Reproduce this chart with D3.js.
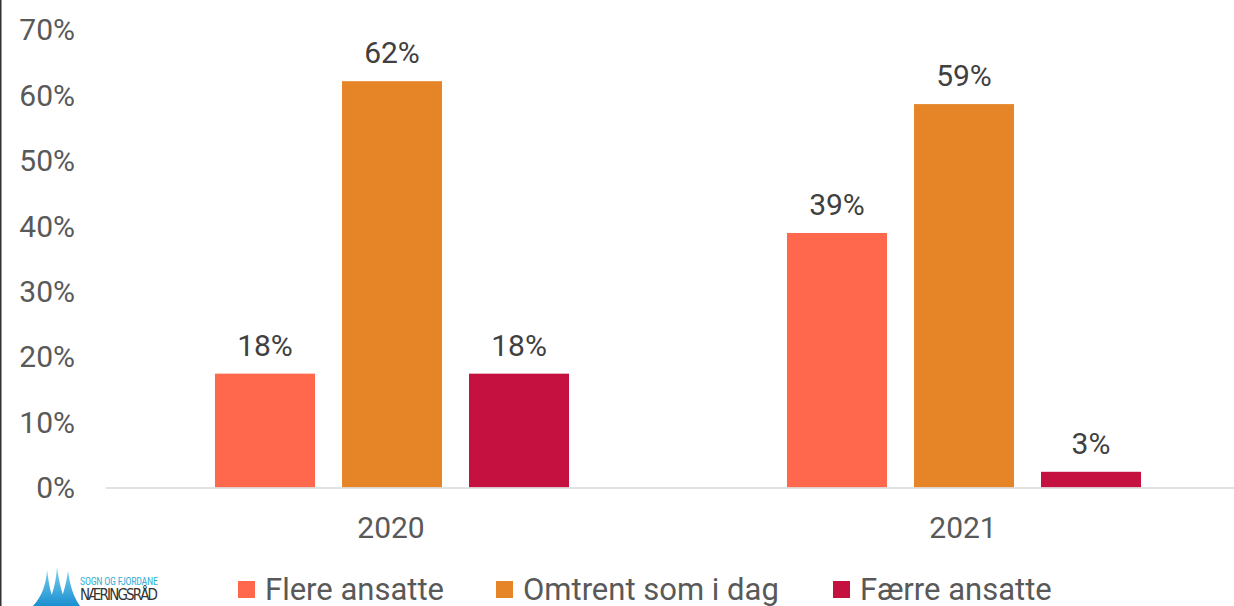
<!DOCTYPE html>
<html>
<head>
<meta charset="utf-8">
<script src="https://cdn.jsdelivr.net/npm/d3@7"></script>
<style>
  body { margin: 0; background: #fff; }
  svg { display: block; font-family: Roboto, "Noto Sans", sans-serif; }
</style>
</head>
<body>
<script>
//chart data
var years = ["2020", "2021"];
var seriesNames = ["Flere ansatte", "Omtrent som i dag", "Færre ansatte"];
var seriesColors = ["#ff684d", "#e68527", "#c51140"];
var flere = [0.174, 0.389];
var omtrent = [0.621, 0.586];
var faerre = [0.174, 0.024];
var valueLabels = [["18%", "62%", "18%"], ["39%", "59%", "3%"]];
var yTicks = [0, 0.1, 0.2, 0.3, 0.4, 0.5, 0.6, 0.7];

var width = 1234,
    height = 606;

var svg = d3.select("body")
    .append("svg")
    .attr("width", width)
    .attr("height", height);

//frame line on the left
svg.append("line")
    .attr("x1", 0.75).attr("x2", 0.75)
    .attr("y1", 0).attr("y2", height)
    .attr("stroke", "#333")
    .attr("stroke-width", 1.5);

//scales
var x0 = d3.scaleBand()
    .domain(years)
    .range([106, 1250])
    .padding(0);

var x1 = d3.scaleBand()
    .domain(seriesNames)
    .range([0, x0.bandwidth()])
    .paddingInner(0.2126)
    .paddingOuter(0.858);

var y = d3.scaleLinear()
    .domain([0, 0.7])
    .range([487.5, 29.5]);

//y tick labels
svg.selectAll(".ytick")
    .data(yTicks)
    .enter()
    .append("text")
    .attr("class", "ytick")
    .attr("x", 75)
    .attr("y", function(d){ return y(d); })
    .attr("dy", "0.36em")
    .attr("text-anchor", "end")
    .attr("fill", "#595959")
    .style("font-size", "30px")
    .text(d3.format(".0%"));

//build rows from the arrays
var rows = years.map(function(yr, i){
    return {
        year: yr,
        values: [flere[i], omtrent[i], faerre[i]].map(function(v, j){
            return { name: seriesNames[j], value: v, label: valueLabels[i][j], color: seriesColors[j] };
        })
    };
});

var groups = svg.selectAll(".group")
    .data(rows)
    .enter()
    .append("g")
    .attr("class", "group")
    .attr("transform", function(d){ return "translate(" + x0(d.year) + ",0)"; });

groups.selectAll("rect")
    .data(function(d){ return d.values; })
    .enter()
    .append("rect")
    .attr("x", function(d){ return x1(d.name); })
    .attr("y", function(d){ return y(d.value); })
    .attr("width", x1.bandwidth())
    .attr("height", function(d){ return y(0) - y(d.value); })
    .attr("fill", function(d){ return d.color; });

groups.selectAll(".vlabel")
    .data(function(d){ return d.values; })
    .enter()
    .append("text")
    .attr("class", "vlabel")
    .attr("x", function(d){ return x1(d.name) + x1.bandwidth() / 2; })
    .attr("y", function(d){ return y(d.value) - 18; })
    .attr("text-anchor", "middle")
    .attr("fill", "#404040")
    .style("font-size", "30px")
    .text(function(d){ return d.label; });

//baseline
svg.append("line")
    .attr("x1", 106).attr("x2", width)
    .attr("y1", y(0) + 0.5).attr("y2", y(0) + 0.5)
    .attr("stroke", "#d9d9d9")
    .attr("stroke-width", 1.5);

//category labels
svg.selectAll(".xlabel")
    .data(years)
    .enter()
    .append("text")
    .attr("class", "xlabel")
    .attr("x", function(d){ return x0(d) + x0.bandwidth() / 2 - 1; })
    .attr("y", 538)
    .attr("text-anchor", "middle")
    .attr("fill", "#595959")
    .style("font-size", "30px")
    .text(function(d){ return d; });

//legend
var legendX = [238, 496, 833];
var legend = svg.selectAll(".legend")
    .data(seriesNames)
    .enter()
    .append("g")
    .attr("class", "legend")
    .attr("transform", function(d, i){ return "translate(" + legendX[i] + ",581)"; });

legend.append("rect")
    .attr("width", 17)
    .attr("height", 17)
    .attr("fill", function(d, i){ return seriesColors[i]; });

legend.append("text")
    .attr("x", 27)
    .attr("y", 19)
    .attr("fill", "#595959")
    .style("font-size", "31px")
    .text(function(d){ return d; });

//logo
var logo = svg.append("g").attr("transform", "translate(0,0)");
var grad = svg.append("defs").append("linearGradient")
    .attr("id", "logoGrad")
    .attr("x1", 0).attr("y1", 0).attr("x2", 0).attr("y2", 1);
grad.append("stop").attr("offset", "0%").attr("stop-color", "#7fd3f0");
grad.append("stop").attr("offset", "100%").attr("stop-color", "#1a8fd0");

logo.append("path")
    .attr("d", "M33,606 C42,596 46,585 47,570 C49,585 51,594 55,606 Z " +
               "M47,606 C53,594 56,582 57,567 C59,582 62,594 67,606 Z " +
               "M58,606 C63,596 66,585 68,571 C70,585 73,596 80,606 Z")
    .attr("fill", "url(#logoGrad)");

logo.append("text")
    .attr("x", 80)
    .attr("y", 585)
    .attr("fill", "#3ab0d8")
    .style("font-size", "10px")
    .style("font-family", "'Roboto Condensed', 'DejaVu Sans Condensed', Roboto, sans-serif")
    .attr("textLength", 78)
    .text("SOGN OG FJORDANE");

logo.append("text")
    .attr("x", 80)
    .attr("y", 600)
    .attr("fill", "#333")
    .style("font-size", "15px")
    .style("font-family", "'DejaVu Sans Condensed', Roboto, sans-serif")
    .attr("textLength", 78)
    .text("NÆRINGSRÅD");
</script>
</body>
</html>
